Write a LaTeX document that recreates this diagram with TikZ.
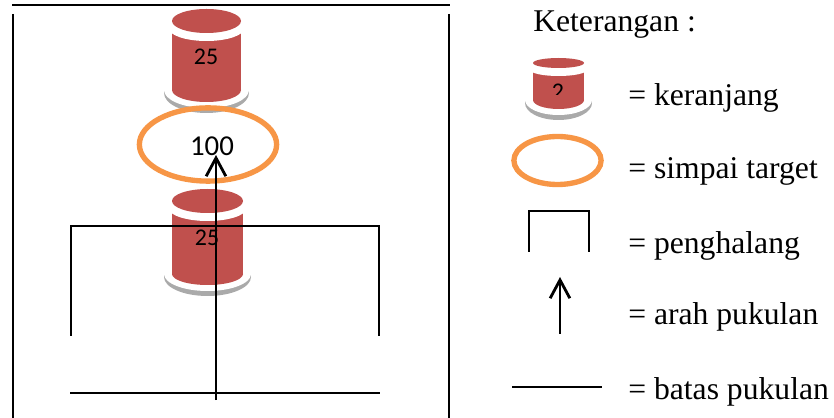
\documentclass[tikz,border=0pt]{standalone}
\usepackage{fontspec}
\setmainfont{Liberation Serif}
\newfontfamily\angka{Carlito}
\usetikzlibrary{shapes.geometric,arrows.meta}
\definecolor{merah}{RGB}{192,80,77}
\definecolor{jingga}{RGB}{247,150,70}
\definecolor{bayang}{RGB}{170,170,170}
\tikzset{
    garis/.style={line width=1.6pt},
    simpai/.style={draw=jingga,shape=ellipse,line width=3.8pt,inner sep=0pt},
    teks/.style={anchor=base west,font=\fontsize{22.5pt}{25pt}\selectfont,inner sep=0pt},
    angkabesar/.style={font=\angka\fontsize{20.5pt}{24pt}\selectfont,inner sep=0pt},
    angkakecil/.style={font=\angka\fontsize{17pt}{20pt}\selectfont,inner sep=0pt},
    panah/.style={line width=2pt,-{Straight Barb[length=13pt,width=14pt,line width=2pt]}},
    % rx, ry atas, tinggi badan, ry bawah
    pics/keranjang/.style n args={4}{code={
        \fill[bayang] (0,#3+3) ellipse[x radius=#1+8,y radius=#4+8];
        \fill[white] (0,#3) ellipse[x radius=#1+8,y radius=#4+6];
        \fill[white] (-#1-8,-#2) rectangle (#1+8,#3);
        \fill[merah] (-#1,7) rectangle (#1,#3);
        \fill[merah] (0,#3) ellipse[x radius=#1,y radius=#4];
        \fill[white] (0,7) ellipse[x radius=1.1*#1,y radius=#2+1];
        \fill[merah] (0,0) ellipse[x radius=#1,y radius=#2];
    }}
}
\begin{document}
\begin{tikzpicture}[x=0.025cm,y=-0.025cm]
    \useasboundingbox (0,0) rectangle (834,418);
    % bingkai
    \coordinate (kiriA) at (13,14);
    \coordinate (kiriB) at (13,418);
    \coordinate (atasA) at (12,5);
    \coordinate (atasB) at (450,5);
    \coordinate (kananA) at (449,14);
    \coordinate (kananB) at (449,418);
    \draw[garis] (atasA) -- (atasB);
    \draw[garis] (kiriA) -- (kiriB);
    \draw[garis] (kananA) -- (kananB);
    % lapangan
    \pic at (206.5,21) {keranjang={34.5}{12}{69}{12}};
    \node[angkakecil] (skorA) at (206,57) {25};
    \pic at (207.5,201) {keranjang={35.5}{12}{73}{11}};
    \node[simpai,minimum width=3.43cm,minimum height=1.83cm] (target) at (208,144.5) {};
    \node[angkabesar] (skorB) at (212,146) {100};
    \node[angkakecil] (skorC) at (207,238) {25};
    \coordinate (halangA) at (71,336);
    \coordinate (halangB) at (71,226);
    \coordinate (halangC) at (379,226);
    \coordinate (halangD) at (379,336);
    \draw[garis] (halangA) -- (halangB) -- (halangC) -- (halangD);
    \coordinate (batasA) at (70,393);
    \coordinate (batasB) at (380,393);
    \draw[garis] (batasA) -- (batasB);
    \coordinate (pukulA) at (216,400);
    \coordinate (pukulB) at (216,155);
    \draw[panah] (pukulA) -- (pukulB);
    % keterangan
    \node[teks] (judul) at (533,32) {Keterangan :};
    \pic at (558.5,63) {keranjang={25.5}{5}{37}{9}};
    \begin{scope}
        \clip (530,80) rectangle (590,95);
        \node[angkakecil] (skorD) at (558,92) {2};
    \end{scope}
    \node[teks] (ketA) at (628,106) {= keranjang};
    \node[simpai,minimum width=2.18cm,minimum height=1.2cm] (contoh) at (557.5,160.5) {};
    \node[teks] (ketB) at (628,179) {= simpai target};
    \coordinate (hA) at (529,252);
    \coordinate (hB) at (529,211);
    \coordinate (hC) at (589,211);
    \coordinate (hD) at (589,252);
    \draw[garis] (hA) -- (hB) -- (hC) -- (hD);
    \node[teks] (ketC) at (628,254) {= penghalang};
    \coordinate (pA) at (560,334);
    \coordinate (pB) at (560,277);
    \draw[panah] (pA) -- (pB);
    \node[teks] (ketD) at (628,325) {= arah pukulan};
    \coordinate (bA) at (512,387);
    \coordinate (bB) at (602,387);
    \draw[garis] (bA) -- (bB);
    \node[teks] (ketE) at (628,399) {= batas pukulan};
\end{tikzpicture}
\end{document}
